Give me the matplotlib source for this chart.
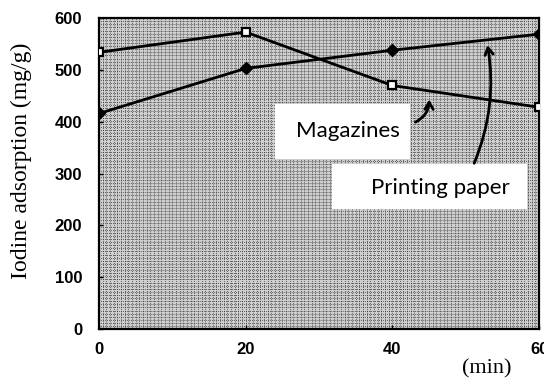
import matplotlib.pyplot as plt
from matplotlib.patches import Rectangle
import numpy as np

# data
time_min = [0, 20, 40, 60]
magazines = [534, 573, 470, 428]
printing_paper = [416, 503, 538, 569]
x_ticks = [0, 20, 40, 60]
y_ticks = [0, 100, 200, 300, 400, 500, 600]

tick_font = ['Liberation Sans', 'DejaVu Sans']
serif_font = ['Liberation Serif', 'DejaVu Serif']
label_font = ['Lato', 'DejaVu Sans']

fig = plt.figure(figsize=(5.44, 3.85), dpi=100)
ax = fig.add_axes([0.182, 0.145, 0.809, 0.808])

# speckled grey background like the scanned grid paper
ax.set_facecolor('#cfcfcf')
for gx in np.arange(0, 60.01, 0.5):
    ax.axvline(gx, color='#1e1e1e', lw=0.55, ls=(0, (1, 1.6)), zorder=0.5)
for gy in np.arange(0, 601, 6):
    ax.axhline(gy, color='#1e1e1e', lw=0.55, ls=(0.5, (1, 1.6)), zorder=0.5)

ax.plot(time_min, magazines, color='black', lw=2, marker='s', ms=6,
        mfc='white', mec='black', mew=1.6, zorder=3)
ax.plot(time_min, printing_paper, color='black', lw=2, marker='D', ms=6,
        mfc='black', mec='black', zorder=3)

ax.set_xlim(0, 60)
ax.set_ylim(0, 600)
ax.set_xticks(x_ticks)
ax.set_yticks(y_ticks)
ax.tick_params(direction='in', length=3, width=1)
ax.tick_params(axis='x', pad=9)
ax.tick_params(axis='y', pad=12)
for lab in ax.get_xticklabels() + ax.get_yticklabels():
    lab.set_family(tick_font)
    lab.set_fontweight('bold')
    lab.set_fontsize(12)
for s in ax.spines.values():
    s.set_linewidth(1.6)

ax.set_ylabel('Iodine adsorption (mg/g)', family=serif_font, fontsize=17)
ax.yaxis.set_label_coords(-0.152, 0.54)
fig.text(0.895, 0.042, '(min)', family=serif_font, fontsize=16, ha='center', va='center')

# white label boxes with curved arrows
ax.add_patch(Rectangle((24.0, 329), 18.4, 106, fc='white', ec='none', zorder=4))
ax.add_patch(Rectangle((31.8, 232), 26.6, 87, fc='white', ec='none', zorder=4))
ax.text(33.9, 383, 'Magazines', family=label_font, fontsize=16,
        ha='center', va='center', zorder=5)
ax.text(46.6, 273, 'Printing paper', family=label_font, fontsize=16,
        ha='center', va='center', zorder=5)
ax.annotate('', xy=(45.0, 448), xytext=(42.8, 397),
            arrowprops=dict(arrowstyle='->,head_length=0.5,head_width=0.3', lw=2,
                            color='black', connectionstyle='arc3,rad=0.35'), zorder=6)
ax.annotate('', xy=(52.9, 553), xytext=(51.0, 315),
            arrowprops=dict(arrowstyle='->,head_length=0.5,head_width=0.3', lw=2,
                            color='black', connectionstyle='arc3,rad=0.15'), zorder=6)

fig.savefig('out.png', dpi=100)
